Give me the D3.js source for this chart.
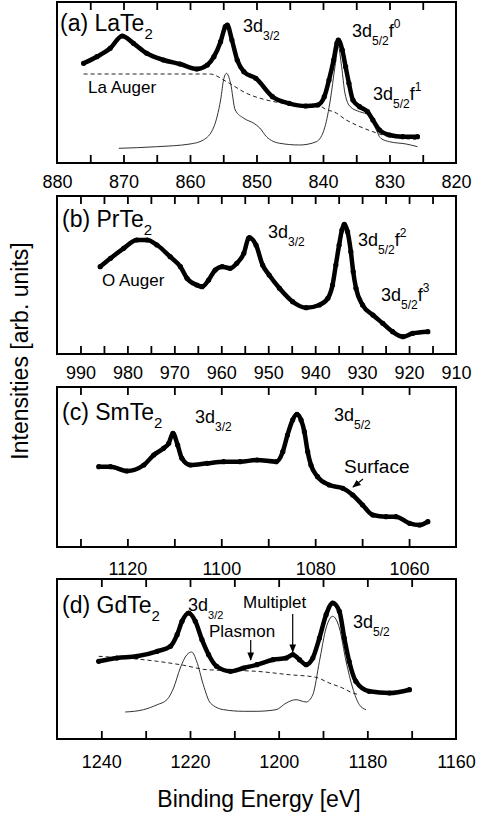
<!DOCTYPE html>
<html><head><meta charset="utf-8">
<script src="https://cdn.jsdelivr.net/npm/d3@7"></script>
<style>
html,body{margin:0;padding:0;background:#fff;}
svg{display:block;font-family:"Liberation Sans",Arial,Helvetica,sans-serif;}
</style></head>
<body>
<svg id="chart" width="478" height="821"></svg>
<script>
// ---------------- DATA (binding energy [eV], intensity [arb. units]) ----------------
const laData = [[876,99.7],[874,106.3],[872,114.7],[870.2,127],[868.5,119.7],[866.5,109.7],[864,103],[861.5,99],[859,94],[857.4,98],[856.4,106.3],[855.4,121.3],[854.7,136.3],[854.4,138],[853.7,123],[852.9,103],[851.9,91.3],[850.1,84.7],[847.6,66.3],[845.1,59.7],[842.6,57],[840.8,58],[839.8,66.3],[839.1,83],[838.4,103],[837.9,120],[837.7,123],[837.1,113],[836.6,96.3],[836.1,79.7],[835.5,63],[834.5,56.3],[833.3,51.3],[832.5,43],[831.5,33],[830,28],[828,26.3],[825.8,26.3]];
const laAuger = [[876,89],[857,89],[854.5,81.3],[851.5,69.7],[848.5,63],[845,59],[840.5,57],[839.4,53],[838.4,51.3],[836.5,43],[835,38],[832.5,31.3],[830,26.3],[826,23.7]];
const laFit = [[870.7,14.7],[865,16.3],[860,19],[858,23],[856.4,36.3],[855.4,63],[854.9,84.7],[854.5,89.7],[853.9,79.7],[853.2,53],[851.9,44.7],[850.4,39.7],[849.5,35],[848.5,26.3],[846.5,19.7],[843.5,18],[841,21.3],[839.7,36.3],[838.9,63],[838.2,96.3],[837.7,116.3],[837.2,96.3],[836.7,69.7],[835.9,56.3],[834.5,51.3],[833,48],[832.2,36.3],[831.3,24.7],[830,21.3],[827.5,19],[825.8,16.3]];
const prData = [[985.8,87.3],[983.6,95.7],[980.8,105.7],[978,114],[975.8,114],[973.7,109],[970.9,97.3],[968.7,87.3],[967.3,75.7],[965.2,69],[964.1,67.3],[962.7,74],[961.3,84],[959.8,87.3],[958.1,85.7],[956.7,90.7],[955.2,100.7],[954.2,115.7],[954,116.3],[952.6,109],[951.2,89],[949.8,79],[947.6,65.7],[944.8,52.3],[941.9,46.3],[939.1,49],[937.3,55.7],[936.3,69],[935.6,89],[934.9,109],[934.3,124],[933.8,129.7],[933.1,122.3],[932.4,102.3],[931.9,82.3],[931.3,65.7],[929.9,49],[927.7,39],[925.6,30.7],[923.5,22.3],[921.3,17.3],[919.2,20.7],[916,22.3]];
const smData = [[1126.1,80.3],[1123.6,80.3],[1120.1,76],[1116.5,82],[1114.4,92],[1112.3,98.7],[1111.2,103.7],[1110.3,113.7],[1109.3,102],[1108.4,88.7],[1106.6,82],[1103,83.7],[1099.5,85.3],[1096,85.3],[1092.4,87],[1088.3,85.3],[1086.9,95.3],[1085.9,112],[1084.8,127],[1083.9,132.7],[1083,127],[1082.3,115.3],[1081.6,95.3],[1080.9,82],[1079.5,70.3],[1077,62],[1074.1,58.7],[1072,52],[1069.9,42],[1067.7,32],[1064.9,30.3],[1062.8,30.3],[1059.9,23.7],[1057.8,22],[1056,25.3]];
const gdData = [[1240.6,77.7],[1236.5,81],[1232,82.7],[1227.4,87.7],[1224.4,92.7],[1222.9,104.3],[1221.8,117.7],[1220.3,126],[1218.8,117.7],[1217.3,99.3],[1215.8,84.3],[1214,72.7],[1210.9,67.7],[1207.9,71],[1204.9,74.3],[1201.3,79.3],[1198.3,81],[1196.8,84.3],[1195.3,79.3],[1193.8,74.3],[1192.3,81],[1190.8,101],[1189.3,124.3],[1187.8,136],[1186.3,127.7],[1185.2,101],[1184.1,77.7],[1182.6,57.7],[1179.6,47.7],[1175,46],[1170.5,49.3]];
const gdBackground = [[1240.6,82.7],[1227.4,77.7],[1221.4,73.7],[1216.2,69.3],[1205.1,67.7],[1197.6,64.3],[1191.6,61.7],[1188.6,56],[1185.6,51],[1183.3,46],[1181.8,44.3]];
const gdFit = [[1234.6,27],[1230.5,29.3],[1227.4,34.3],[1225.2,39.3],[1223.7,51],[1222.2,71],[1220.7,84.3],[1219.6,87],[1218.5,77.7],[1217,54.3],[1215.4,36],[1212.4,29.3],[1207.9,27.7],[1205.1,27.7],[1200.6,29.3],[1198.3,36],[1196.1,39.3],[1193.8,37],[1192.3,44.3],[1190.8,77.7],[1189.3,111],[1187.8,122.7],[1186.3,111],[1184.8,77.7],[1183.3,51],[1181.8,34.3],[1180.3,29.3]];

const aLabels = [880,870,860,850,840,830,820];
const bLabels = [990,980,970,960,950,940,930,920,910];
const cLabels = [1120,1100,1080,1060];
const dLabels = [1240,1220,1200,1180,1160];
const aMinor = [875,870,865,860,855,850,845,840,835,830,825];
const bMinor = [990,985,980,975,970,965,960,955,950,945,940,935,930,925,920,915];
const cMinor = [1130,1120,1110,1100,1090,1080,1070,1060];
const dMinor = [1240,1230,1220,1210,1200,1190,1180,1170];

// ---------------- LAYOUT ----------------
const svg = d3.select("#chart");
const L = 57, R = 456;
const panels = [
  {top:2,   bottom:163, dom:[880,820],   labels:aLabels, minor:aMinor, lab:25, data:laData, dashed:laAuger, fit:laFit},
  {top:196, bottom:354, dom:[995,910],   labels:bLabels, minor:bMinor, lab:25, data:prData},
  {top:387, bottom:547, dom:[1135,1050], labels:cLabels, minor:cMinor, lab:28, data:smData},
  {top:579, bottom:739, dom:[1250,1160], labels:dLabels, minor:dMinor, lab:29, data:gdData, dashed:gdBackground, fit:gdFit}
];

panels.forEach(p => {
  const x = d3.scaleLinear().domain(p.dom).range([L,R]);
  const y = d3.scaleLinear().domain([0,p.bottom-p.top]).range([p.bottom,p.top]);
  const g = svg.append("g");
  g.append("g").attr("transform",`translate(0,${p.bottom})`)
    .call(d3.axisBottom(x).tickValues(p.minor).tickSize(-8).tickFormat(""))
    .call(s=>{s.select(".domain").remove(); s.selectAll("line").attr("stroke","#000").attr("stroke-width",1.8);});
  g.append("g").attr("transform",`translate(0,${p.top})`)
    .call(d3.axisTop(x).tickValues(p.minor).tickSize(-8).tickFormat(""))
    .call(s=>{s.select(".domain").remove(); s.selectAll("line").attr("stroke","#000").attr("stroke-width",1.8);});
  g.append("g").attr("transform",`translate(0,${p.bottom})`)
    .call(d3.axisBottom(x).tickValues(p.labels).tickSize(0).tickFormat(d3.format("d")))
    .call(s=>{s.select(".domain").remove();
      s.selectAll("text").attr("y",p.lab).attr("dy",0).attr("fill","#000")
       .style("font-size","18px").style("font-family","Liberation Sans, Arial, sans-serif");});
  const line = d3.line().x(d=>x(d[0])).y(d=>y(d[1])).curve(d3.curveMonotoneX);
  if (p.fit) g.append("path").attr("d",line(p.fit)).attr("fill","none").attr("stroke","#333").attr("stroke-width",1);
  if (p.dashed) g.append("path").attr("d",line(p.dashed)).attr("fill","none").attr("stroke","#222").attr("stroke-width",1).attr("stroke-dasharray","4,3");
  g.append("path").attr("d",line(p.data)).attr("fill","none").attr("stroke","#000").attr("stroke-width",4.5).attr("stroke-linejoin","round").attr("stroke-linecap","round");
  g.selectAll("circle").data(p.data).join("circle").attr("cx",d=>x(d[0])).attr("cy",d=>y(d[1])).attr("r",2.6).attr("fill","#000");
  g.append("rect").attr("x",L).attr("y",p.top).attr("width",R-L).attr("height",p.bottom-p.top)
    .attr("fill","none").attr("stroke","#000").attr("stroke-width",2);
});

// ---------------- TEXT ----------------
function rich(x, y, parts, size, subSize) {
  const t = svg.append("text").attr("x",x).attr("y",y).attr("font-size",size).attr("fill","#000");
  let cur = 0;
  parts.forEach(pt => {
    const [str, kind] = pt;
    const off = kind==="sub" ? 8 : kind==="sup" ? -9 : 0;
    const fs = kind ? (subSize || size*0.66) : size;
    t.append("tspan").attr("dy", off-cur).attr("font-size",fs).text(str);
    cur = off;
  });
  return t;
}
rich(60,31,[["(a) LaTe"],["2","sub"]],23,15);
rich(243,32,[["3d"],["3/2","sub"]],18,12);
rich(352,37,[["3d"],["5/2","sub"],["f"],["0","sup"]],18,12);
rich(373,100,[["3d"],["5/2","sub"],["f"],["1","sup"]],18,12);
svg.append("text").attr("x",88).attr("y",93).attr("font-size",17).text("La Auger");

rich(62,227,[["(b) PrTe"],["2","sub"]],23,15);
rich(268,238,[["3d"],["3/2","sub"]],18,12);
rich(358,246,[["3d"],["5/2","sub"],["f"],["2","sup"]],18,12);
rich(381,301,[["3d"],["5/2","sub"],["f"],["3","sup"]],18,12);
svg.append("text").attr("x",102).attr("y",286).attr("font-size",17).text("O Auger");

rich(62,420,[["(c) SmTe"],["2","sub"]],23,15);
rich(195,423,[["3d"],["3/2","sub"]],18,12);
rich(334,421,[["3d"],["5/2","sub"]],18,12);
svg.append("text").attr("x",344).attr("y",473).attr("font-size",19).text("Surface");

rich(62,613,[["(d) GdTe"],["2","sub"]],23,15);
rich(188,611,[["3d"],["3/2","sub"]],18,11);
rich(353,628,[["3d"],["5/2","sub"]],18,12);
svg.append("text").attr("x",209).attr("y",637).attr("font-size",17).text("Plasmon");
svg.append("text").attr("x",243).attr("y",608).attr("font-size",17).text("Multiplet");

const defs = svg.append("defs");
defs.append("marker").attr("id","ah").attr("viewBox","0 0 10 10").attr("refX",9).attr("refY",5)
  .attr("markerWidth",7).attr("markerHeight",7).attr("orient","auto")
  .append("path").attr("d","M0,1 L10,5 L0,9 Z").attr("fill","#000");
function arrow(x1,y1,x2,y2){svg.append("line").attr("x1",x1).attr("y1",y1).attr("x2",x2).attr("y2",y2)
  .attr("stroke","#000").attr("stroke-width",1.2).attr("marker-end","url(#ah)");}
arrow(363,479,353,487);
arrow(250.7,640,250.7,660);
arrow(292.7,614,292.7,652);

svg.append("text").attr("x",259).attr("y",807).attr("text-anchor","middle").attr("font-size",23).text("Binding Energy [eV]");
svg.append("text").attr("transform","translate(28,351) rotate(-90)").attr("text-anchor","middle").attr("font-size",23).text("Intensities [arb. units]");
</script>
</body></html>
